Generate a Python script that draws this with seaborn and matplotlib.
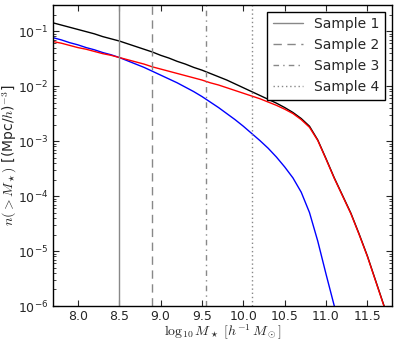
import numpy as np
import pandas as pd
import matplotlib
matplotlib.use("Agg")
import matplotlib.pyplot as plt
import seaborn as sns

# log10 stellar mass grid
mass = [7.7, 7.8, 7.9, 8.0, 8.1, 8.2, 8.3, 8.4, 8.5, 8.6, 8.7, 8.8, 8.9, 9.0,
        9.1, 9.2, 9.3, 9.4, 9.5, 9.6, 9.7, 9.8, 9.9, 10.0, 10.1, 10.2, 10.3,
        10.4, 10.5, 10.6, 10.7, 10.8, 10.9, 11.0, 11.1, 11.2, 11.3, 11.4,
        11.5, 11.6, 11.7, 11.75]

# log10 n(>M)
log_total = [-0.85, -0.89, -0.93, -0.97, -1.01, -1.05, -1.10, -1.14, -1.18,
             -1.23, -1.28, -1.33, -1.38, -1.44, -1.49, -1.55, -1.60, -1.66,
             -1.71, -1.77, -1.83, -1.89, -1.96, -2.03, -2.10, -2.17, -2.24,
             -2.31, -2.39, -2.48, -2.59, -2.73, -2.98, -3.32, -3.67, -3.99,
             -4.31, -4.69, -5.09, -5.54, -5.99, -6.24]
log_red = [-1.19, -1.22, -1.26, -1.30, -1.33, -1.37, -1.41, -1.44, -1.48,
           -1.52, -1.56, -1.60, -1.65, -1.69, -1.73, -1.77, -1.81, -1.85,
           -1.89, -1.94, -1.98, -2.03, -2.08, -2.13, -2.18, -2.23, -2.29,
           -2.35, -2.42, -2.50, -2.61, -2.75, -2.99, -3.33, -3.68, -4.00,
           -4.32, -4.70, -5.10, -5.55, -6.00, -6.25]

mass_blue = [7.7, 7.8, 7.9, 8.0, 8.1, 8.2, 8.3, 8.4, 8.5, 8.6, 8.7, 8.8, 8.9,
             9.0, 9.1, 9.2, 9.3, 9.4, 9.5, 9.6, 9.7, 9.8, 9.9, 10.0, 10.1,
             10.2, 10.3, 10.4, 10.5, 10.6, 10.7, 10.8, 10.9, 11.0, 11.1, 11.15]
log_blue = [-1.12, -1.16, -1.21, -1.25, -1.30, -1.34, -1.39, -1.43, -1.48,
            -1.54, -1.60, -1.66, -1.73, -1.80, -1.87, -1.94, -2.02, -2.10,
            -2.19, -2.29, -2.39, -2.50, -2.61, -2.73, -2.86, -2.99, -3.13,
            -3.29, -3.47, -3.67, -3.93, -4.30, -4.82, -5.42, -6.00, -6.30]

sample_labels = ["Sample 1", "Sample 2", "Sample 3", "Sample 4"]
sample_cuts = [8.5, 8.9, 9.55, 10.1]
sample_styles = ["-", (0, (6, 4)), (0, (4, 3, 1, 3)), (0, (1, 2))]

sns.set_style("ticks")
plt.rcParams["font.family"] = ["DejaVu Sans"]
plt.rcParams["mathtext.fontset"] = "cm"
plt.rcParams["xtick.direction"] = "in"
plt.rcParams["ytick.direction"] = "in"

fig = plt.figure(figsize=(3.99, 3.47), dpi=100)
ax = fig.add_axes([0.133, 0.118, 0.85, 0.868])

df_tot = pd.DataFrame({"m": mass, "n": np.power(10.0, log_total)})
df_red = pd.DataFrame({"m": mass, "n": np.power(10.0, log_red)})
df_blue = pd.DataFrame({"m": mass_blue, "n": np.power(10.0, log_blue)})

sns.lineplot(data=df_tot, x="m", y="n", color="black", lw=1, ax=ax)
sns.lineplot(data=df_blue, x="m", y="n", color="blue", lw=1, ax=ax)
sns.lineplot(data=df_red, x="m", y="n", color="red", lw=1, ax=ax)

for lab, cut, ls in zip(sample_labels, sample_cuts, sample_styles):
    ax.axvline(cut, color="#888888", ls=ls, lw=1, label=lab)

ax.set_yscale("log")
ax.set_xlim(7.7, 11.8)
ax.set_ylim(1e-6, 0.3)
ax.set_xticks([8.0, 8.5, 9.0, 9.5, 10.0, 10.5, 11.0, 11.5])
ax.tick_params(which="both", top=True, right=True, labelsize=9)
ax.tick_params(which="major", length=4)
ax.tick_params(which="minor", length=2)
ax.tick_params(axis="x", pad=2.5)
for s in ax.spines.values():
    s.set_linewidth(1.0)
    s.set_color("black")

ax.set_xlabel(r"$\log_{10}M_\star\ [h^{-1}\,M_\odot]$", fontsize=10)
ax.set_ylabel(r"$n(>M_\star)$ [(Mpc/$h$)$^{-3}$]", fontsize=10)
ax.xaxis.set_label_coords(0.5, -0.055)
ax.yaxis.set_label_coords(-0.10, 0.5)

leg = ax.legend(loc="upper right", fontsize=10, fancybox=False,
                framealpha=1, edgecolor="black", handlelength=2.2,
                borderaxespad=0.5)
leg.get_frame().set_linewidth(1.0)

fig.savefig("out.png", dpi=100)
